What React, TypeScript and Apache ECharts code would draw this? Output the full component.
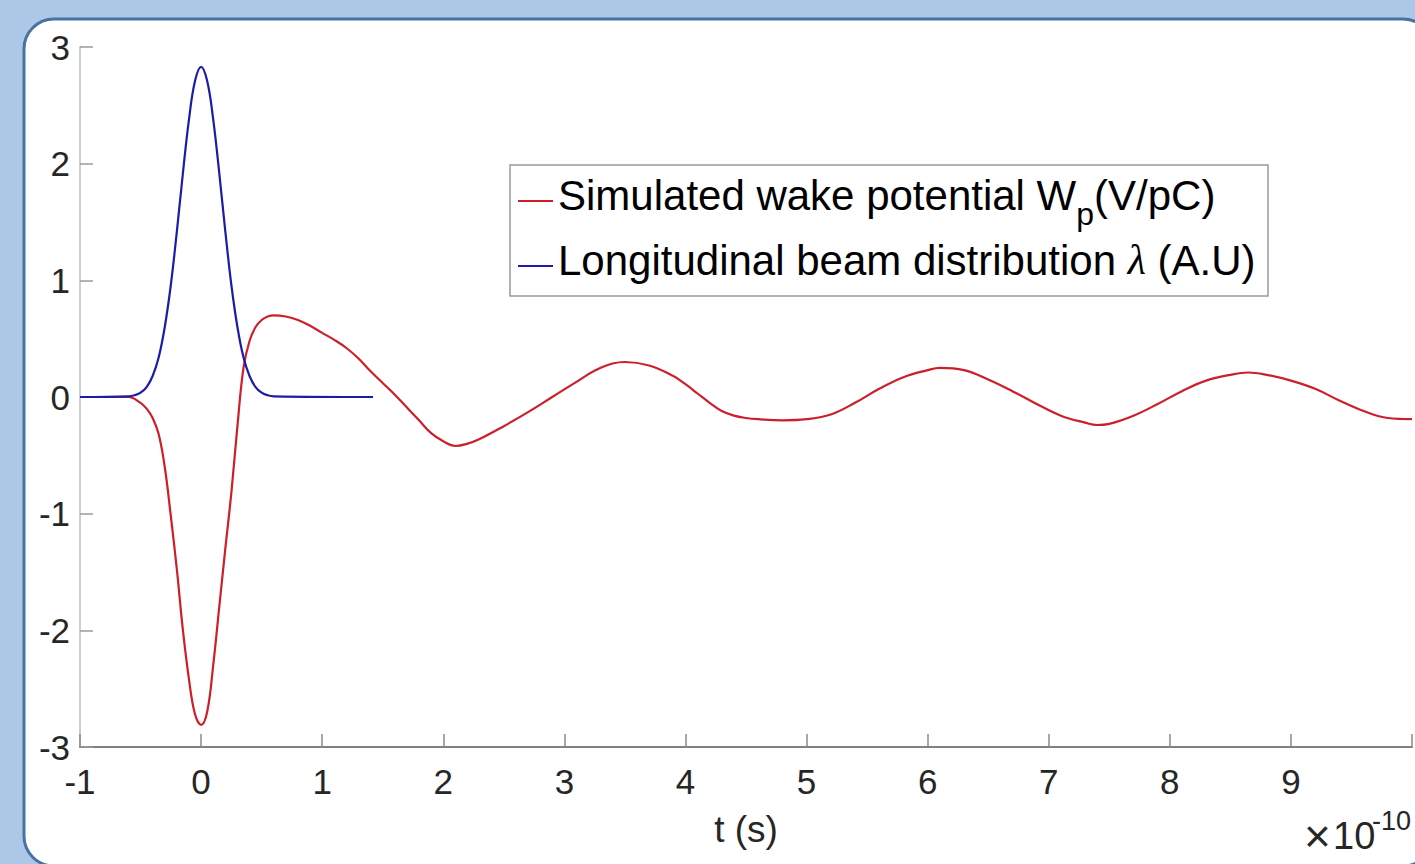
import React, { useEffect, useRef } from "react";
import * as echarts from "echarts";

// time in units of 1e-10 s
const wakeTimes = [
  -1, -0.6, -0.5, -0.45, -0.4, -0.35, -0.3, -0.25, -0.2, -0.15, -0.1, -0.05, 0,
  0.05, 0.1, 0.15, 0.2, 0.25, 0.3, 0.35, 0.4, 0.45, 0.5, 0.55, 0.6, 0.7, 0.8, 0.9,
  1.0, 1.1, 1.2, 1.3, 1.4, 1.5, 1.6, 1.7, 1.8, 1.9, 2.0, 2.1, 2.2, 2.3, 2.5, 2.7,
  2.9, 3.1, 3.3, 3.5, 3.7, 3.9, 4.0, 4.1, 4.2, 4.3, 4.4, 4.5, 4.6, 4.8, 5.0, 5.2,
  5.4, 5.6, 5.8, 6.0, 6.1, 6.3, 6.5, 6.7, 6.9, 7.1, 7.3, 7.4, 7.5, 7.7, 7.9, 8.1,
  8.3, 8.5, 8.65, 8.8, 9.0, 9.2, 9.4, 9.6, 9.8, 10.0,
];
const wakeValues = [
  0, 0, -0.05, -0.1, -0.18, -0.32, -0.6, -1.02, -1.48, -2.0, -2.42, -2.72, -2.81,
  -2.7, -2.3, -1.8, -1.3, -0.82, -0.25, 0.25, 0.48, 0.6, 0.66, 0.69, 0.7, 0.69,
  0.66, 0.61, 0.55, 0.49, 0.42, 0.33, 0.22, 0.12, 0.02, -0.09, -0.2, -0.31, -0.38,
  -0.42, -0.4, -0.36, -0.25, -0.13, 0.0, 0.13, 0.25, 0.3, 0.27, 0.18, 0.11, 0.03,
  -0.05, -0.12, -0.16, -0.18, -0.19, -0.2, -0.19, -0.15, -0.05, 0.07, 0.17, 0.23,
  0.25, 0.23, 0.15, 0.05, -0.06, -0.16, -0.22, -0.24, -0.23, -0.16, -0.06, 0.05,
  0.14, 0.19, 0.21, 0.19, 0.14, 0.07, -0.03, -0.12, -0.18, -0.19,
];

const beamTimes = [
  -1, -0.6, -0.55, -0.5, -0.45, -0.4, -0.35, -0.3, -0.25, -0.2, -0.15, -0.1, -0.05,
  0, 0.05, 0.1, 0.15, 0.2, 0.25, 0.3, 0.35, 0.4, 0.45, 0.5, 0.55, 0.6, 1.42,
];
const beamValues = [
  0, 0.006, 0.015, 0.037, 0.085, 0.18, 0.34, 0.6, 0.96, 1.42, 1.92, 2.38, 2.71,
  2.83, 2.71, 2.38, 1.92, 1.42, 0.96, 0.6, 0.34, 0.18, 0.085, 0.037, 0.015, 0.006, 0,
];

const xTickValues = [-1, 0, 1, 2, 3, 4, 5, 6, 7, 8, 9];
const WAKE = "Simulated wake potential Wp(V/pC)";
const BEAM = "Longitudinal beam distribution λ (A.U)";

const FONT = "'Liberation Sans', Arial, Helvetica, sans-serif";

export default function App() {
  const ref = useRef<HTMLDivElement>(null);
  useEffect(() => {
    if (!ref.current) return;
    const chart = echarts.init(ref.current, undefined, { renderer: "svg" });
    const option: any = {
      animation: false,
      backgroundColor: "#adc8e6",
      textStyle: { fontFamily: FONT },
      graphic: [
        {
          type: "rect",
          z: -10,
          silent: true,
          shape: { x: 24, y: 19, width: 1409, height: 847, r: 30 },
          style: { fill: "#ffffff", stroke: "#4672a4", lineWidth: 3 },
        },
        {
          type: "rect",
          z: -5,
          silent: true,
          shape: { x: 510, y: 165, width: 758, height: 131 },
          style: { fill: "#ffffff", stroke: "#9a9a9a", lineWidth: 1.5 },
        },
        {
          type: "text",
          z: 10,
          x: 1304,
          y: 813,
          style: { text: "×", fontSize: 46, fontFamily: FONT, fill: "#262626" },
        },
        {
          type: "text",
          z: 10,
          x: 1333,
          y: 817,
          style: { text: "10", fontSize: 38, fontFamily: FONT, fill: "#262626" },
        },
        {
          type: "text",
          z: 10,
          x: 1372,
          y: 807,
          style: { text: "-10", fontSize: 27, fontFamily: FONT, fill: "#262626" },
        },
      ],
      grid: { left: 80, right: 1, top: 47, bottom: 117, containLabel: false },
      legend: {
        show: true,
        left: 510,
        top: 157,
        orient: "vertical",
        selectedMode: false,
        icon: "rect",
        itemWidth: 35,
        itemHeight: 2,
        itemGap: 3,
        padding: [9, 13, 0, 8],
        data: [WAKE, BEAM],
        formatter: (name: string) =>
          name === WAKE
            ? "{n|Simulated wake potential W}{sub|p}{n|(V/pC)}"
            : "{n|Longitudinal beam distribution }{lam|λ}{n| (A.U)}",
        textStyle: {
          color: "#000",
          fontFamily: FONT,
          fontSize: 42,
          rich: {
            n: {
              fontSize: 42,
              fontFamily: FONT,
              color: "#000",
              lineHeight: 46,
              padding: [0, 0, 12, 0],
            },
            sub: {
              fontSize: 32,
              fontFamily: FONT,
              color: "#000",
              lineHeight: 20,
              padding: [32, 0, 6, 0],
            },
            lam: {
              fontSize: 42,
              fontFamily: "'Liberation Serif', 'DejaVu Serif', serif",
              fontStyle: "italic",
              color: "#000",
              lineHeight: 46,
              padding: [0, 0, 12, 0],
            },
          },
        },
      },
      xAxis: {
        type: "value",
        min: -1,
        max: 10,
        interval: 1,
        name: "t (s)",
        nameLocation: "middle",
        nameGap: 64,
        nameTextStyle: { fontSize: 37, color: "#262626", fontFamily: FONT },
        axisLine: { show: true, onZero: false, lineStyle: { color: "#808080", width: 2 } },
        axisTick: { show: true, inside: true, length: 13, lineStyle: { color: "#8a8a8a", width: 1.5 } },
        axisLabel: {
          fontSize: 35,
          color: "#262626",
          fontFamily: FONT,
          margin: 17,
          formatter: (v: number) => (xTickValues.indexOf(v) >= 0 ? String(v) : ""),
        },
        splitLine: { show: false },
      },
      yAxis: {
        type: "value",
        min: -3,
        max: 3,
        interval: 1,
        axisLine: { show: true, onZero: false, lineStyle: { color: "#cdcdcd", width: 2 } },
        axisTick: { show: true, inside: true, length: 13, lineStyle: { color: "#9a9a9a", width: 1.5 } },
        axisLabel: { fontSize: 35, color: "#262626", fontFamily: FONT, margin: 10 },
        splitLine: { show: false },
      },
      series: [
        {
          name: WAKE,
          type: "line",
          showSymbol: false,
          smooth: 0.4,
          color: "#cc1f2a",
          lineStyle: { width: 2.2, color: "#cc1f2a" },
          data: wakeTimes.map((t, i) => [t, wakeValues[i]]),
          z: 3,
        },
        {
          name: BEAM,
          type: "line",
          showSymbol: false,
          smooth: 0.4,
          color: "#1c1ca8",
          lineStyle: { width: 2.2, color: "#1c1ca8" },
          data: beamTimes.map((t, i) => [t, beamValues[i]]),
          z: 4,
        },
      ],
    };
    chart.setOption(option);
    return () => chart.dispose();
  }, []);
  return (
    <div
      ref={ref}
      style={{ position: "absolute", left: 0, top: 0, width: 1415, height: 864 }}
    />
  );
}
